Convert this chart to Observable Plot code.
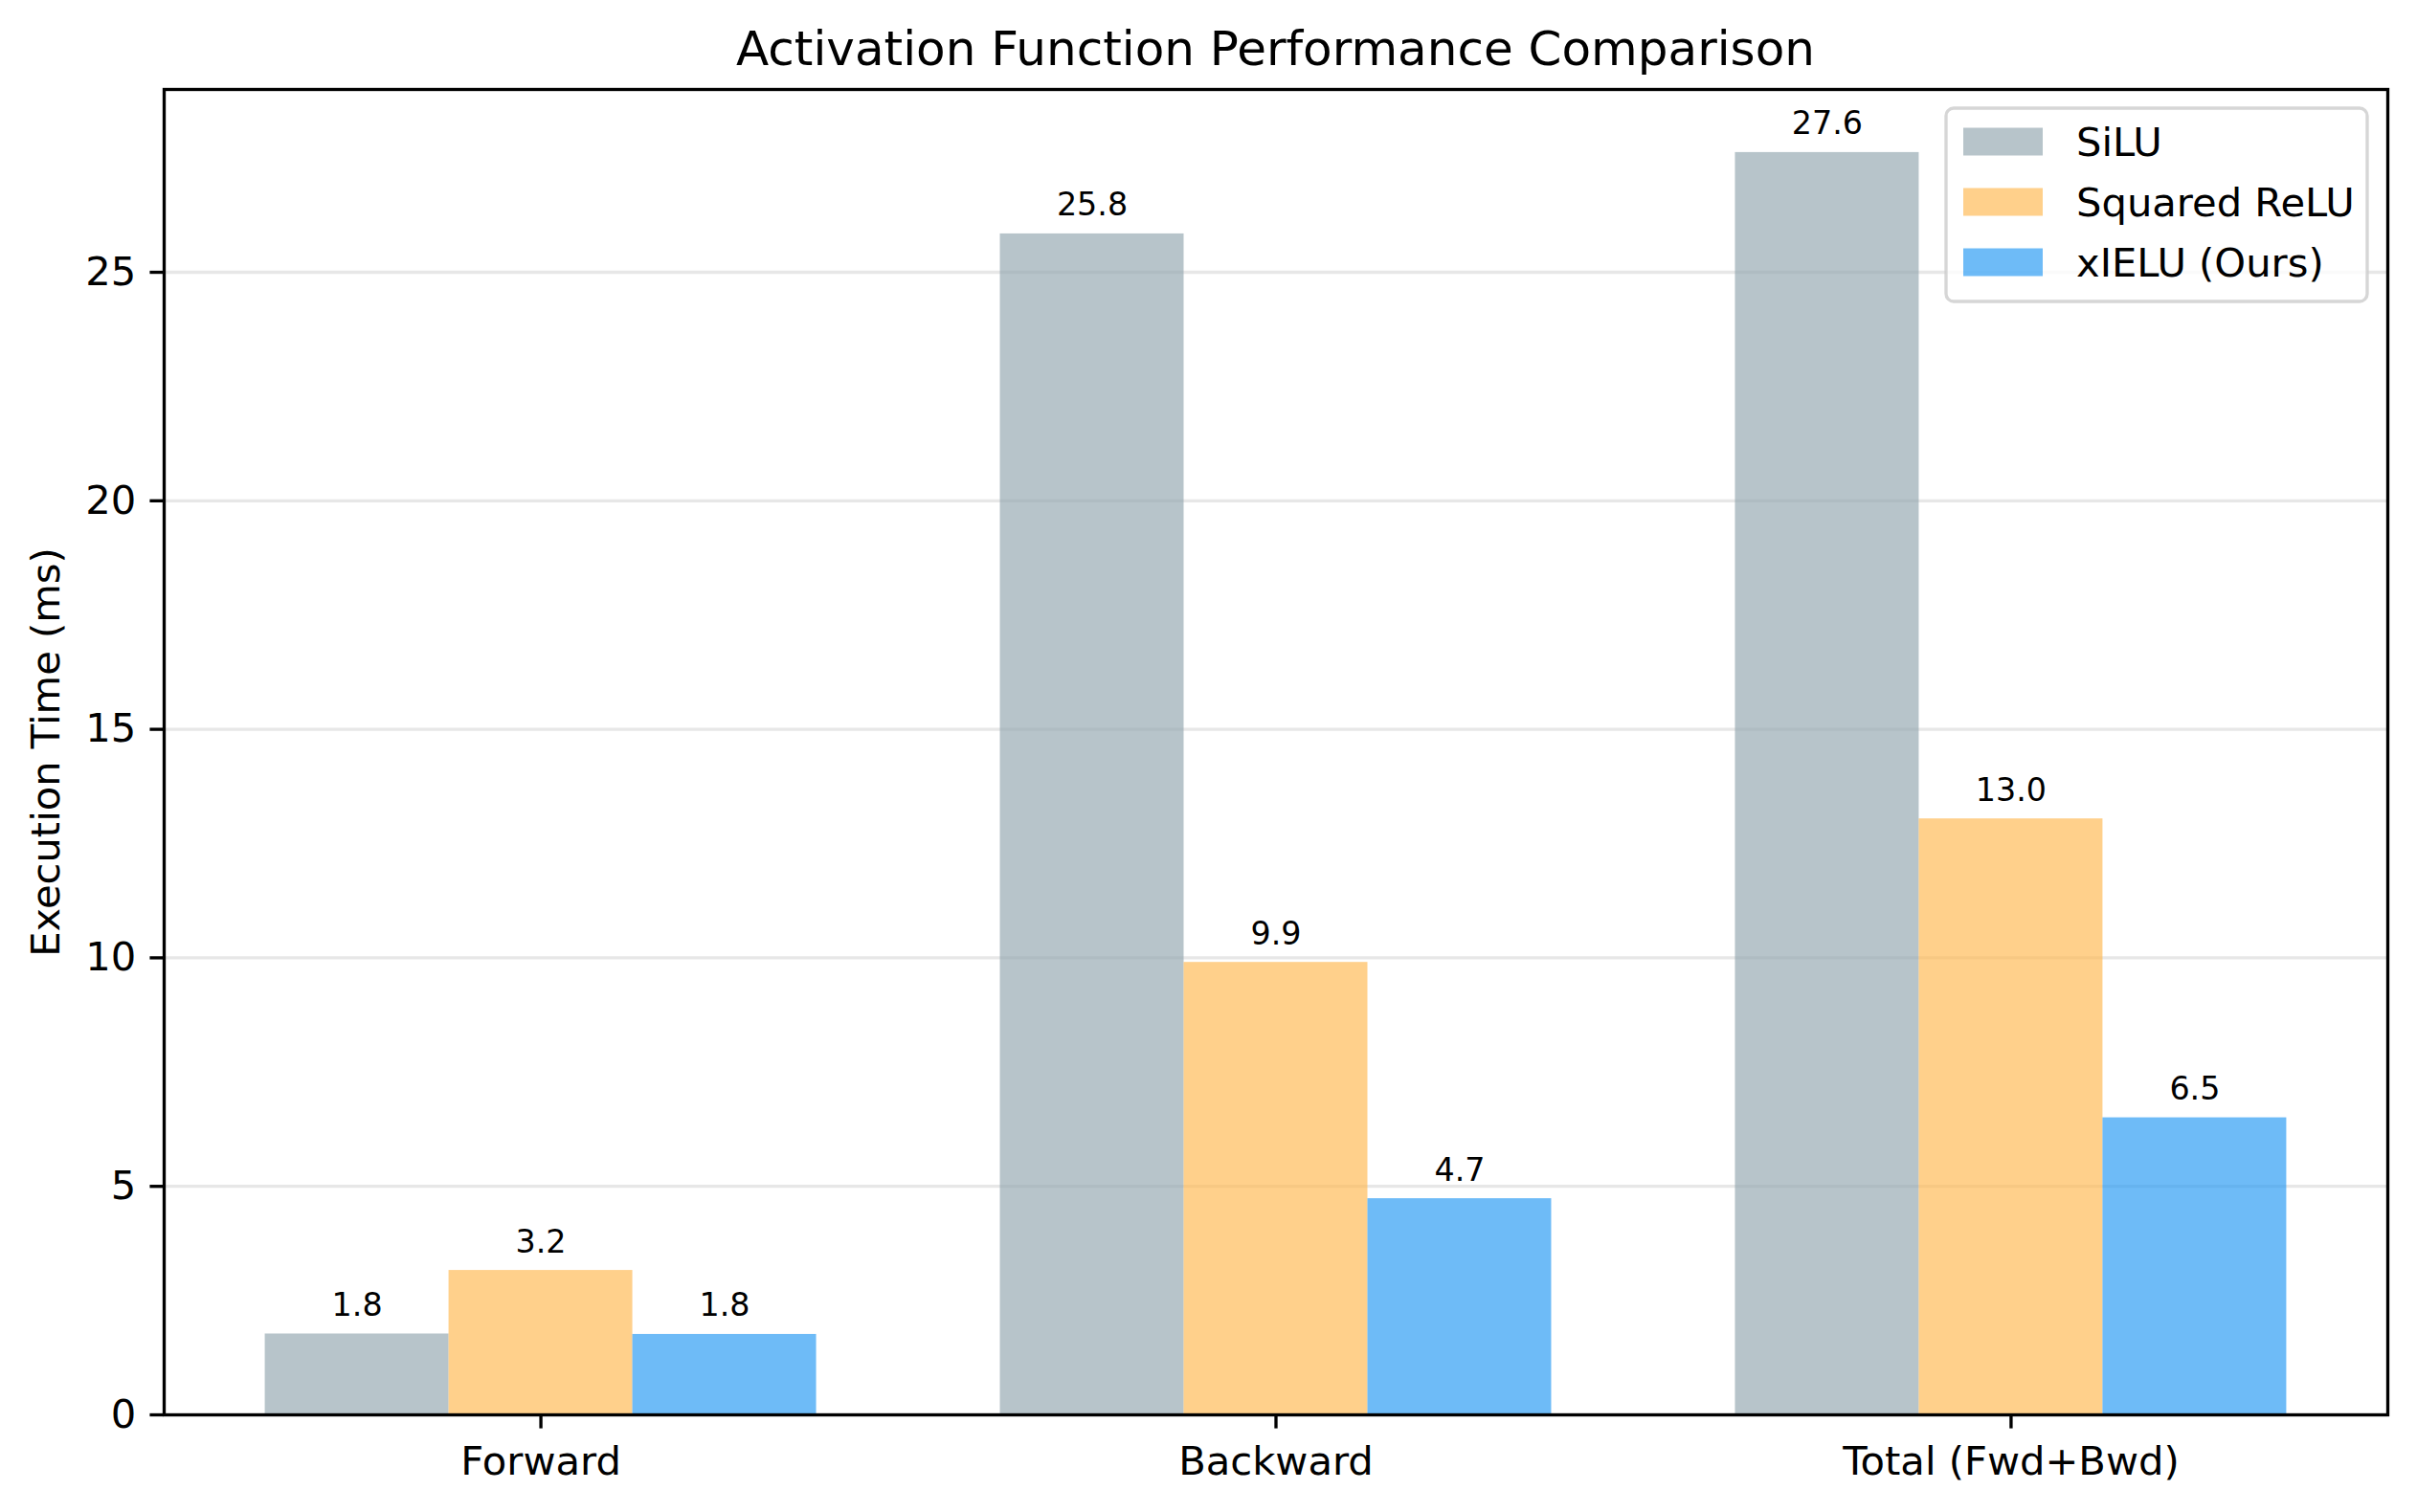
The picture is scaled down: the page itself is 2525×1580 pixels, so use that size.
<!DOCTYPE html>
<html>
<head>
<meta charset="utf-8">
<script src="https://cdn.jsdelivr.net/npm/d3@7"></script>
<script src="https://cdn.jsdelivr.net/npm/@observablehq/plot@0.6"></script>
<style>
  html, body { margin: 0; padding: 0; background: #fff; }
  #chart { width: 2525px; height: 1580px; }
</style>
</head>
<body>
<div id="chart"></div>
<script>
// ---- data ----
const categories = ["Forward", "Backward", "Total (Fwd+Bwd)"];
const seriesNames = ["SiLU", "Squared ReLU", "xIELU (Ours)"];
const silu = [1.77, 25.84, 27.62];
const squaredRelu = [3.16, 9.90, 13.04];
const xielu = [1.76, 4.73, 6.50];
const seriesColors = ["#90A4AE", "#FFB74D", "#2196F3"];
const yTicks = [0, 5, 10, 15, 20, 25];
const title = "Activation Function Performance Comparison";
const yLabel = "Execution Time (ms)";

// ---- table ----
const seriesValues = [silu, squaredRelu, xielu];
const barWidth = 0.25;
const rows = [];
seriesNames.forEach((s, j) => {
  categories.forEach((c, i) => {
    const center = i + (j - 1) * barWidth;
    rows.push({series: s, category: c, value: seriesValues[j][i],
               x1: center - barWidth / 2, x2: center + barWidth / 2, xc: center});
  });
});

const W = 2525, H = 1580;
const mL = 171, mR = 31, mT = 93, mB = 102;
const pt = 300 / 72;

const plot = Plot.plot({
  width: W,
  height: H,
  marginLeft: mL,
  marginRight: mR,
  marginTop: mT,
  marginBottom: mB,
  style: {fontFamily: "DejaVu Sans", fontSize: `${10 * pt}px`, color: "black", background: "white"},
  x: {domain: [-0.5125, 2.5125]},
  y: {domain: [0, 29.0]},
  color: {domain: seriesNames, range: seriesColors},
  marks: [
    Plot.gridY(yTicks, {stroke: "#b0b0b0", strokeOpacity: 0.3, strokeWidth: 0.8 * pt}),
    Plot.rect(rows, {x1: "x1", x2: "x2", y1: 0, y2: "value", fill: "series", fillOpacity: 0.65}),
    Plot.text(rows, {x: "xc", y: "value", text: d => d.value.toFixed(1), lineAnchor: "bottom",
                     dy: -19, fontSize: 8 * pt, fill: "black"}),
    Plot.axisY({ticks: yTicks, tickSize: 3.5 * pt, tickPadding: 3.5 * pt, strokeWidth: 0.8 * pt,
                label: yLabel, labelAnchor: "center", labelArrow: "none", labelOffset: 139}),
    Plot.axisX({ticks: [0, 1, 2], tickFormat: i => categories[i], tickSize: 3.5 * pt,
                tickPadding: 4.5 * pt, strokeWidth: 0.8 * pt, label: null}),
    Plot.frame({stroke: "black", strokeWidth: 0.8 * pt})
  ]
});

document.getElementById("chart").appendChild(plot);

// ---- title & legend (added to the SVG) ----
const svg = d3.select(plot);
const axCenter = mL + (W - mL - mR) / 2;
svg.append("text")
  .attr("x", axCenter).attr("y", 68)
  .attr("text-anchor", "middle")
  .attr("font-size", 12 * pt)
  .attr("fill", "black")
  .text(title);

const lg = svg.append("g");
const lx = 2033, ly = 113, lw = 440, lh = 202;
lg.append("rect")
  .attr("x", lx).attr("y", ly).attr("width", lw).attr("height", lh)
  .attr("rx", 8).attr("ry", 8)
  .attr("fill", "white").attr("fill-opacity", 0.8)
  .attr("stroke", "#cccccc").attr("stroke-opacity", 0.8).attr("stroke-width", 0.8 * pt);
const rowY = [148, 211, 274];
seriesNames.forEach((s, j) => {
  lg.append("rect")
    .attr("x", 2051).attr("y", rowY[j] - 14.5).attr("width", 83).attr("height", 29)
    .attr("fill", seriesColors[j]).attr("fill-opacity", 0.65);
  lg.append("text")
    .attr("x", 2169).attr("y", rowY[j]).attr("dy", "0.36em")
    .attr("text-anchor", "start")
    .attr("font-size", 10 * pt).attr("fill", "black")
    .text(s);
});
</script>
</body>
</html>
